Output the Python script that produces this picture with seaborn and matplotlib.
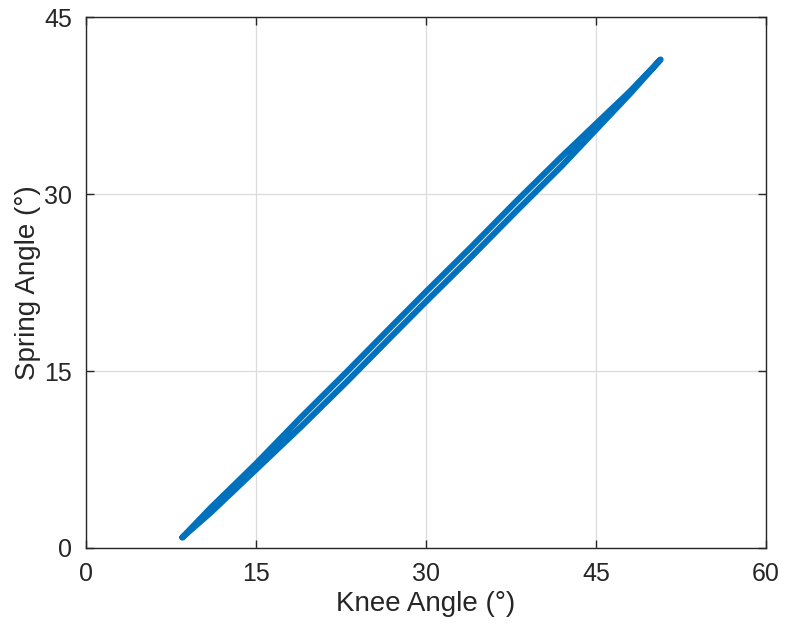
import matplotlib
matplotlib.use("Agg")
import matplotlib.pyplot as plt
import seaborn as sns
import pandas as pd

# Loading branch (upper) and unloading branch (lower) of the hysteresis loop
knee_up = [8.5, 11, 15, 19, 23, 27, 30, 34, 38, 42, 45, 48, 50.7]
spring_up = [0.9, 3.4, 7.15, 11.1, 14.92, 18.82, 21.72, 25.52, 29.42, 33.2, 35.95, 38.7, 41.4]
knee_down = [50.7, 48, 45, 42, 38, 34, 30, 27, 23, 19, 15, 11, 8.5]
spring_down = [41.4, 38.5, 35.45, 32.4, 28.58, 24.68, 20.88, 17.98, 14.08, 10.3, 6.65, 3.0, 0.9]

x_ticks = [0, 15, 30, 45, 60]
y_ticks = [0, 15, 30, 45]

df = pd.DataFrame({
    "knee": knee_up + knee_down,
    "spring": spring_up + spring_down,
})

sns.set_theme(style="white")
plt.rcParams["font.family"] = ["Liberation Sans", "DejaVu Sans"]

fig = plt.figure(figsize=(7.85, 6.33), dpi=100)
ax = fig.add_axes([0.1096, 0.1343, 0.8662, 0.8388])

sns.lineplot(data=df, x="knee", y="spring", sort=False, estimator=None,
             color="#0072BD", linewidth=4.4, ax=ax,
             solid_capstyle="round", solid_joinstyle="round")

ax.set_xlim(0, 60)
ax.set_ylim(0, 45)
ax.set_xticks(x_ticks)
ax.set_yticks(y_ticks)
ax.set_xticklabels([str(t) for t in x_ticks])
ax.set_yticklabels([str(t) for t in y_ticks])
ax.grid(True, color="#dcdcdc", linewidth=0.9)
ax.set_axisbelow(True)

for s in ax.spines.values():
    s.set_visible(True)
    s.set_color("#262626")
    s.set_linewidth(1.0)

ax.tick_params(axis="both", direction="in", length=6, width=1.0, color="#262626",
               labelsize=18, labelcolor="#262626", top=True, right=True,
               bottom=True, left=True, pad=10)

ax.set_xlabel("Knee Angle (°)", fontsize=20, color="#262626", labelpad=4)
ax.set_ylabel("Spring Angle (°)", fontsize=20, color="#262626", labelpad=2)

fig.savefig("out.png", dpi=100)
